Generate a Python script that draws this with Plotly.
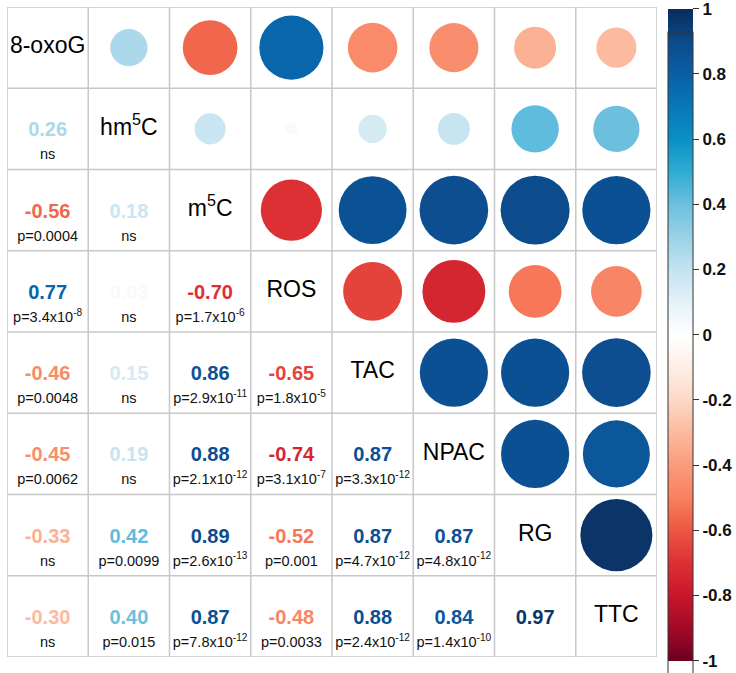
import numpy as np
import plotly.graph_objects as go

# ---------------- data ----------------
variables = ["8-oxoG", "hm<sup>5</sup>C", "m<sup>5</sup>C", "ROS", "TAC", "NPAC", "RG", "TTC"]

# lower-triangle Pearson r, row by row (row i, columns 0..i-1)
r_lower = [
    [],
    [0.26],
    [-0.56, 0.18],
    [0.77, 0.03, -0.70],
    [-0.46, 0.15, 0.86, -0.65],
    [-0.45, 0.19, 0.88, -0.74, 0.87],
    [-0.33, 0.42, 0.89, -0.52, 0.87, 0.87],
    [-0.30, 0.40, 0.87, -0.48, 0.88, 0.84, 0.97],
]

p_lower = [
    [],
    ["ns"],
    ["p=0.0004", "ns"],
    ["p=3.4x10<sup>-8</sup>", "ns", "p=1.7x10<sup>-6</sup>"],
    ["p=0.0048", "ns", "p=2.9x10<sup>-11</sup>", "p=1.8x10<sup>-5</sup>"],
    ["p=0.0062", "ns", "p=2.1x10<sup>-12</sup>", "p=3.1x10<sup>-7</sup>", "p=3.3x10<sup>-12</sup>"],
    ["ns", "p=0.0099", "p=2.6x10<sup>-13</sup>", "p=0.001", "p=4.7x10<sup>-12</sup>", "p=4.8x10<sup>-12</sup>"],
    ["ns", "p=0.015", "p=7.8x10<sup>-12</sup>", "p=0.0033", "p=2.4x10<sup>-12</sup>", "p=1.4x10<sup>-10</sup>", ""],
]

cbar_ticks = [0.9999, 0.8, 0.6, 0.4, 0.2, 0, -0.2, -0.4, -0.6, -0.8, -0.9999]
cbar_ticktext = ["1", "0.8", "0.6", "0.4", "0.2", "0", "-0.2", "-0.4", "-0.6", "-0.8", "-1"]

# ---------------- style ----------------
scale_pts = [
    (-1.0, "#6B0020"), (-0.9, "#A20A26"), (-0.8, "#C8162C"), (-0.7, "#DC3034"),
    (-0.6, "#EC5642"), (-0.5, "#F8805F"), (-0.4, "#FA9B7C"), (-0.3, "#FCBA9E"),
    (-0.2, "#FDD8C6"), (-0.1, "#FEEEE5"), (0.0, "#FFFFFF"), (0.1, "#E4F2F8"),
    (0.2, "#C4E3F0"), (0.3, "#9AD2E7"), (0.4, "#6CC0DE"), (0.5, "#30ACD2"),
    (0.6, "#0A90C5"), (0.7, "#0877B8"), (0.8, "#0A5FA5"), (0.9, "#0C4A8A"),
    (1.0, "#0B2B5A"),
]
colorscale = [[(v + 1) / 2, c] for v, c in scale_pts]


def hex2rgb(h):
    h = h.lstrip("#")
    return np.array([int(h[i:i + 2], 16) for i in (0, 2, 4)], dtype=float)


def color_of(v):
    vals = [p[0] for p in scale_pts]
    cols = [hex2rgb(p[1]) for p in scale_pts]
    for k in range(len(vals) - 1):
        if vals[k] <= v <= vals[k + 1]:
            t = (v - vals[k]) / (vals[k + 1] - vals[k])
            c = cols[k] * (1 - t) + cols[k + 1] * t
            return "rgb(%d,%d,%d)" % tuple(np.round(c))
    return scale_pts[-1][1] if v > 0 else scale_pts[0][1]


FONT = "Liberation Sans, Arial, Helvetica, sans-serif"
n = len(variables)
cell_px = 650 / n

# ---------------- build traces ----------------
cx, cy, cval, csize = [], [], [], []
tx, ty, ttext, tcol = [], [], [], []
px_, py_, ptext = [], [], []
for i in range(n):
    for j in range(i):
        r = r_lower[i][j]
        # lower triangle text
        tx.append(j + 1)
        ty.append(i + 1 + 0.03)
        ttext.append("<b>%.2f</b>" % r)
        tcol.append(color_of(r))
        if p_lower[i][j]:
            px_.append(j + 1)
            py_.append(i + 1 + 0.33)
            ptext.append(p_lower[i][j])
        # mirrored upper-triangle circle
        cx.append(i + 1)
        cy.append(j + 1)
        cval.append(r)
        csize.append(0.9 * np.sqrt(abs(r)) * cell_px)

fig = go.Figure()
fig.add_trace(go.Scatter(
    x=cx, y=cy, mode="markers",
    marker=dict(size=csize, color=cval, colorscale=colorscale, cmin=-1, cmax=1,
                line=dict(width=0), opacity=1,
                colorbar=dict(
                    xref="container", yref="container",
                    x=668 / 736, xanchor="left",
                    y=1 - 9 / 673, yanchor="top",
                    thickness=25, thicknessmode="pixels",
                    len=652, lenmode="pixels",
                    xpad=0, ypad=0,
                    outlinewidth=1, outlinecolor="#333333",
                    tickmode="array", tickvals=cbar_ticks, ticktext=cbar_ticktext,
                    ticks="outside", ticklen=6, tickwidth=1, tickcolor="#333333",
                    ticklabeloverflow="allow",
                    tickfont=dict(family=FONT, size=17, color="#111111", weight="bold"),
                )),
    hoverinfo="skip", showlegend=False,
))
fig.add_trace(go.Scatter(
    x=tx, y=ty, mode="text", text=ttext,
    textfont=dict(family=FONT, size=20, color=tcol),
    hoverinfo="skip", showlegend=False,
))
fig.add_trace(go.Scatter(
    x=px_, y=py_, mode="text", text=ptext,
    textfont=dict(family=FONT, size=14.5, color="#111111"),
    hoverinfo="skip", showlegend=False,
))
fig.add_trace(go.Scatter(
    x=list(range(1, n + 1)), y=[k + 1 for k in range(n)], mode="text", text=variables,
    textfont=dict(family=FONT, size=23, color="#000000"),
    hoverinfo="skip", showlegend=False,
))

# grid lines
shapes = []
for k in range(n + 1):
    shapes.append(dict(type="line", xref="x", yref="y", x0=k + 0.5, x1=k + 0.5, y0=0.5, y1=n + 0.5,
                       line=dict(color="#C8C8C8", width=1.5), layer="below"))
    shapes.append(dict(type="line", xref="x", yref="y", y0=k + 0.5, y1=k + 0.5, x0=0.5, x1=n + 0.5,
                       line=dict(color="#C8C8C8", width=1.5), layer="below"))

fig.update_layout(
    width=736, height=673,
    margin=dict(l=7, r=79, t=7, b=16, pad=0),
    paper_bgcolor="white", plot_bgcolor="white",
    shapes=shapes,
    xaxis=dict(range=[0.5, n + 0.5], showgrid=False, zeroline=False, showticklabels=False,
               showline=False, fixedrange=True),
    yaxis=dict(range=[n + 0.5, 0.5], showgrid=False, zeroline=False, showticklabels=False,
               showline=False, fixedrange=True),
    font=dict(family=FONT),
)

fig.write_html("out.html", config={"displayModeBar": False},
               post_script="document.body.style.margin='0px';")
